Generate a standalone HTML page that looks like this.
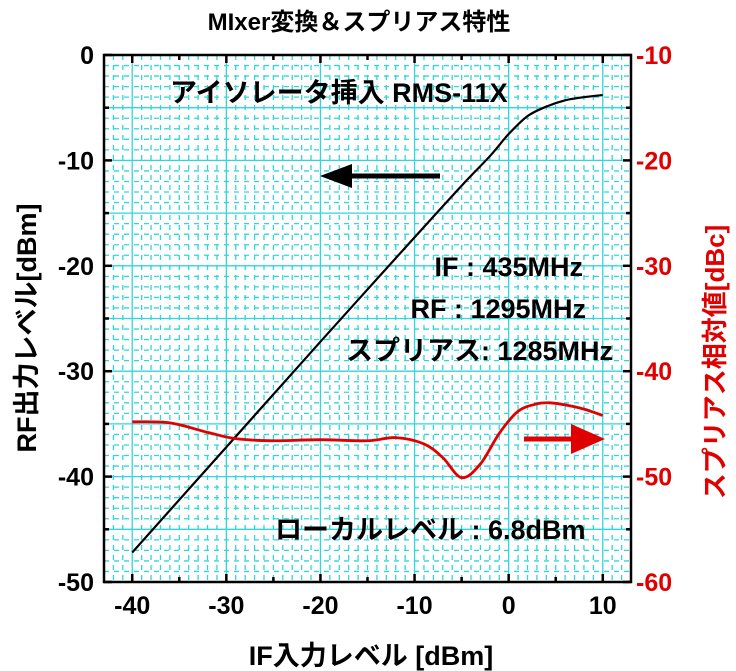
<!DOCTYPE html>
<html><head><meta charset="utf-8"><style>
body{margin:0;background:#fff;}
svg{display:block;font-family:"Liberation Sans","Noto Sans CJK JP",sans-serif;font-weight:bold;}
</style></head><body>
<svg id="chart" width="736" height="671" viewBox="0 0 736 671" xmlns="http://www.w3.org/2000/svg"></svg>
<script>
const xTicks=[-40,-30,-20,-10,0,10];
const yLeftTicks=[0,-10,-20,-30,-40,-50];
const yRightTicks=[-10,-20,-30,-40,-50,-60];
const rfX=[-40,-30,-20,-10,-5,-2,0,2,4,6,8,10];
const rfY=[-47.2,-37.2,-27.2,-17.3,-12.4,-9.6,-7.5,-5.8,-4.9,-4.3,-4.0,-3.8];
const spX=[-40,-36,-32,-29,-25,-20,-15,-12,-9,-7,-5,-3,-1,1,3,4.4,6,8,10];
const spY=[-44.8,-44.9,-45.8,-46.4,-46.6,-46.5,-46.6,-46.3,-46.9,-48.2,-50.1,-48.8,-45.9,-43.8,-43.1,-43.0,-43.2,-43.6,-44.2];
const X0=104,X1=631,Y0=55,Y1=582;
const xs=v=>X0+(v+43)/56*(X1-X0);
const yl=v=>Y0+(0-v)/50*(Y1-Y0);
const yr=v=>Y0+(-10-v)/50*(Y1-Y0);
const svg=document.getElementById('chart');
const NS='http://www.w3.org/2000/svg';
function mk(tag,attrs,parent){const e=document.createElementNS(NS,tag);for(const k in attrs)e.setAttribute(k,attrs[k]);(parent||svg).appendChild(e);return e;}
function txt(s,attrs){const t=mk('text',attrs);t.textContent=s;return t;}
function smooth(p){let d='M'+p[0][0]+','+p[0][1];for(let i=0;i<p.length-1;i++){const a=p[Math.max(i-1,0)],b=p[i],c=p[i+1],e=p[Math.min(i+2,p.length-1)];
 d+=' C'+(b[0]+(c[0]-a[0])/6)+','+(b[1]+(c[1]-a[1])/6)+' '+(c[0]-(e[0]-b[0])/6)+','+(c[1]-(e[1]-b[1])/6)+' '+c[0]+','+c[1];}return d;}
for(let v=-43;v<=13;v++){if(v%10===0)continue;
 const l=mk('line',{x1:xs(v),x2:xs(v),y1:Y0,y2:Y1,stroke:'#2fd6dc','stroke-width':1.3,'stroke-dasharray':'5,5'});
 
 }
for(let v=-1;v>=-49;v--){if(v%5===0)continue;
 const l=mk('line',{x1:X0,x2:X1,y1:yl(v),y2:yl(v),stroke:'#2fd6dc','stroke-width':1.3,'stroke-dasharray':'5,5'});
 
 }
for(const v of xTicks){const l=mk('line',{x1:xs(v),x2:xs(v),y1:Y0,y2:Y1,stroke:'#2fd6dc','stroke-width':1.3});
 
 }
for(let v=-5;v>=-45;v-=5){const l=mk('line',{x1:X0,x2:X1,y1:yl(v),y2:yl(v),stroke:'#2fd6dc','stroke-width':1.3});
 
 }
const fr=mk('rect',{x:X0,y:Y0,width:X1-X0,height:Y1-Y0,fill:'none',stroke:'#000','stroke-width':2.5});


for(let v=-40;v<=10;v+=5){const len=v%10===0?8:5;
 mk('line',{x1:xs(v),x2:xs(v),y1:Y1,y2:Y1-len,stroke:'#000','stroke-width':2.5});
 mk('line',{x1:xs(v),x2:xs(v),y1:Y0,y2:Y0+len,stroke:'#000','stroke-width':2.5});}
for(let v=0;v>=-50;v-=5){const len=v%10===0?8:5;
 mk('line',{x1:X0,x2:X0+len,y1:yl(v),y2:yl(v),stroke:'#000','stroke-width':2.5});
 mk('line',{x1:X1,x2:X1-len,y1:yl(v),y2:yl(v),stroke:'#000','stroke-width':2.5});}
for(const v of xTicks){const t=txt(String(v),{x:xs(v),y:614,'font-size':25,'text-anchor':'middle',fill:'#000'});
 
 }
for(const v of yLeftTicks){const t=txt(String(v),{x:94,y:yl(v)+9,'font-size':25,'text-anchor':'end',fill:'#000'});
 
 }
for(const v of yRightTicks){const t=txt(String(v),{x:636,y:yr(v)+9,'font-size':25,'text-anchor':'start',fill:'#e00000'});
 
 }
const rf=mk('path',{d:smooth(rfX.map((x,i)=>[xs(x),yl(rfY[i])])),fill:'none',stroke:'#000','stroke-width':2.2});


const sp=mk('path',{d:smooth(spX.map((x,i)=>[xs(x),yr(spY[i])])),fill:'none',stroke:'#e00000','stroke-width':2.8});


</script>
<svg style="position:absolute;left:0;top:0" width="736" height="671" font-family="Liberation Sans, Noto Sans CJK JP, sans-serif" font-weight="bold">
<g><line x1="440" y1="176" x2="350" y2="176" stroke="#000" stroke-width="5"/><polygon points="320,176 352,164 352,188" fill="#000"/></g>
<g><line x1="524" y1="439" x2="575" y2="439" stroke="#e00000" stroke-width="5"/><polygon points="605,439 571,424 571,454" fill="#e00000"/></g>
<text x="359" y="30" font-size="24" text-anchor="middle">MIxer変換＆スプリアス特性</text>
<text x="170" y="102" font-size="27">アイソレータ挿入 RMS-11X</text>
<text x="583" y="276" font-size="27" text-anchor="end">IF : 435MHz</text>
<text x="586" y="318" font-size="27" text-anchor="end">RF : 1295MHz</text>
<text x="613" y="360" font-size="27" text-anchor="end">スプリアス: 1285MHz</text>
<text x="275" y="539" font-size="27">ローカルレベル : 6.8dBm</text>
<text x="371" y="665" font-size="27" text-anchor="middle">IF入力レベル [dBm]</text>
<text transform="translate(36,328) rotate(-90)" font-size="27" text-anchor="middle">RF出力レベル[dBm]</text>
<text transform="translate(724,362) rotate(-90)" font-size="26" text-anchor="middle" fill="#e00000">スプリアス相対値[dBc]</text>
</svg>
</body></html>
